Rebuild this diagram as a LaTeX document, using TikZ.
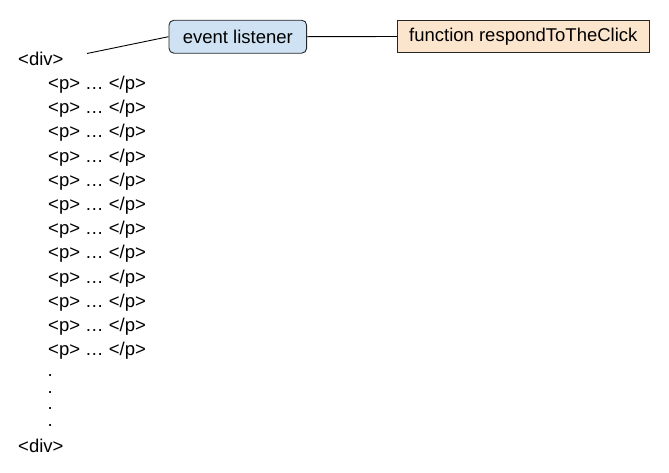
\documentclass[tikz,border=0pt]{standalone}
\usepackage{fontspec}
\setmainfont{Liberation Sans}
\definecolor{lblue}{HTML}{CFE2F3}
\definecolor{lorange}{HTML}{FCE5CD}
\definecolor{edge}{HTML}{262626}
\begin{document}
\begin{tikzpicture}[x=1pt,y=-1pt,
  txt/.style={anchor=base west,inner sep=0pt,font=\fontsize{18.5}{22}\selectfont},
  box/.style={draw=edge,line width=0.9pt,inner sep=0pt,font=\fontsize{18.5}{22}\selectfont},
  conn/.style={draw=black,line width=0.9pt}]
\useasboundingbox (0,0) rectangle (669,472);
\node[txt] (div1) at (18,65) {<div>};
\foreach \i in {0,...,11}{
  \node[txt] (p\i) at (48,{89.5+\i*24.2}) {<p> … </p>};
}
\node[txt] (dots) at (47.5,426) {\vbox{\baselineskip=16.5pt\lineskiplimit=-100pt\hbox{.}\hbox{.}\hbox{.}\hbox{.}}};
\node[txt] (div2) at (18,452) {<div>};
\node[box,fill=lblue,rounded corners=5pt,minimum width=137.7pt,minimum height=33pt] (ev) at (237.8,36.7) {event listener};
\node[box,fill=lorange,minimum width=252pt,minimum height=32.5pt] (fn) at (523.3,36.5) {function respondToTheClick};
\coordinate (lstart) at (87,53.5);
\draw[conn] (lstart) -- (ev.west);
\draw[conn] (ev.east) -- (fn.west);
\end{tikzpicture}
\end{document}
